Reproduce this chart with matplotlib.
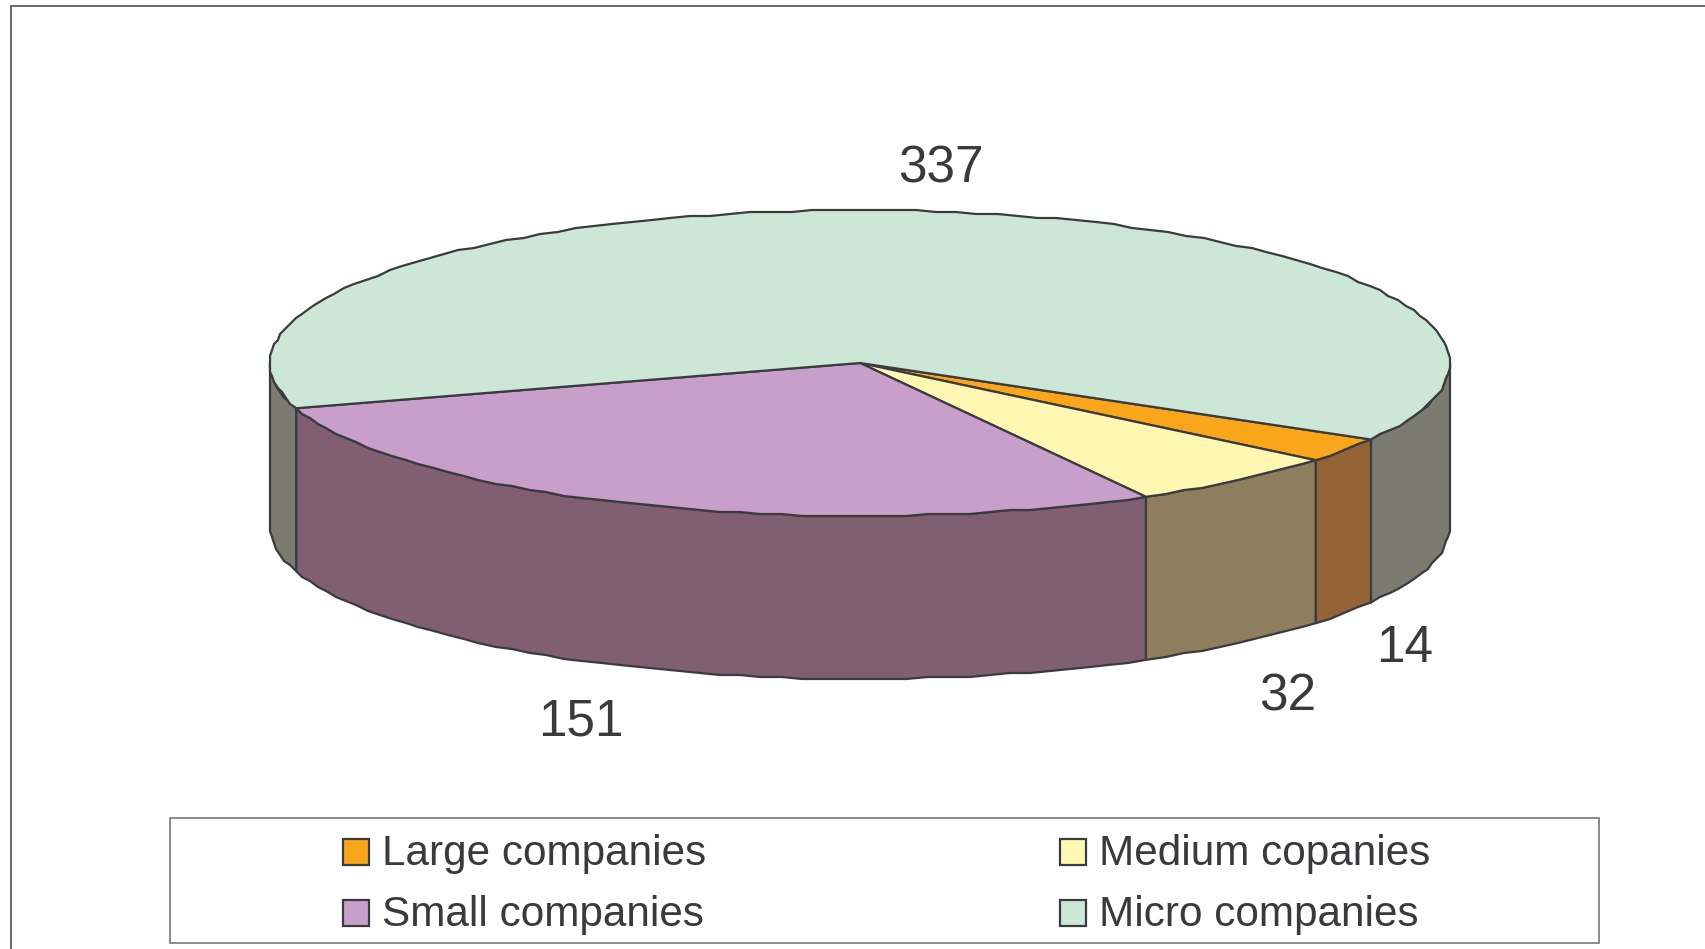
import numpy as np
import matplotlib
matplotlib.use("Agg")
import matplotlib.pyplot as plt
from matplotlib.patches import Polygon, Rectangle

categories = ["Large companies", "Medium copanies", "Small companies", "Micro companies"]
values = [14, 32, 151, 337]
top_colors = ["#f9a61a", "#fff7b2", "#c89fca", "#cde7d7"]
side_colors = ["#956236", "#8f7e5e", "#805f73", "#7b7b6f"]

plt.rcParams["font.family"] = ["Liberation Sans", "DejaVu Sans"]
EDGE = "#3a3a3f"
TEXT = "#3a3a3c"

W, H = 1706, 949
fig = plt.figure(figsize=(W / 100, H / 100), dpi=100)
ax = fig.add_axes([0, 0, 1, 1])
ax.set_xlim(0, W)
ax.set_ylim(H, 0)
ax.axis("off")

# outer frame: only top and left are inside the canvas
ax.plot([11, 11, W + 5], [H + 5, 6, 6], color="#666666", lw=1.4, solid_joinstyle="miter")

cx, cy, a, b, depth = 860, 363, 590, 153, 163
START = -30.0


def rim(t0, t1, step=2.0):
    """Points on the top ellipse between two angles, slightly stepped like the source."""
    n = max(2, int(abs(t1 - t0) / step) + 1)
    t = np.radians(np.linspace(t0, t1, n))
    x = cx + a * np.cos(t)
    y = cy - b * np.sin(t)
    inner_x = np.round(x[1:-1] / 2) * 2
    inner_y = np.round(y[1:-1] / 2) * 2
    return np.r_[x[0], inner_x, x[-1]], np.r_[y[0], inner_y, y[-1]]


sweeps = np.array(values) / sum(values) * 360.0
ends = START - np.cumsum(sweeps)
starts = ends + sweeps


def side(t0, t1, color):
    x, y = rim(t0, t1)
    pts = np.c_[np.r_[x, x[::-1]], np.r_[y, y[::-1] + depth]]
    ax.add_patch(Polygon(pts, closed=True, fc=color, ec=EDGE, lw=1.6, joinstyle="round"))


# front walls: the micro slice wraps around and shows at both ends
side(0, START, side_colors[3])
side(-180, ends[2], side_colors[3])
for i in range(3):
    side(starts[i], ends[i], side_colors[i])

# top faces
for i in range(4):
    x, y = rim(starts[i], ends[i])
    pts = np.c_[np.r_[cx, x], np.r_[cy, y]]
    ax.add_patch(Polygon(pts, closed=True, fc=top_colors[i], ec=EDGE, lw=1.6, joinstyle="round"))

# data labels
label_pos = [(1405, 649), (1288, 697), (581, 722), (941, 169)]
for v, (lx, ly) in zip(values, label_pos):
    ax.text(lx, ly, str(v), ha="center", va="center", fontsize=37, color=TEXT)

# legend
ax.add_patch(Rectangle((170, 818), 1429, 125, fc="white", ec="#777777", lw=1.2))
swatch_xy = [(343, 839), (1060, 839), (343, 900), (1060, 900)]
for name, col, (sx, sy) in zip(categories, top_colors, swatch_xy):
    ax.add_patch(Rectangle((sx, sy), 26, 26, fc=col, ec=EDGE, lw=1.6))
    ax.text(sx + 39, sy + 15, name, ha="left", va="center", fontsize=30.4, color=TEXT)

fig.savefig("out.png", dpi=100, facecolor="white")
